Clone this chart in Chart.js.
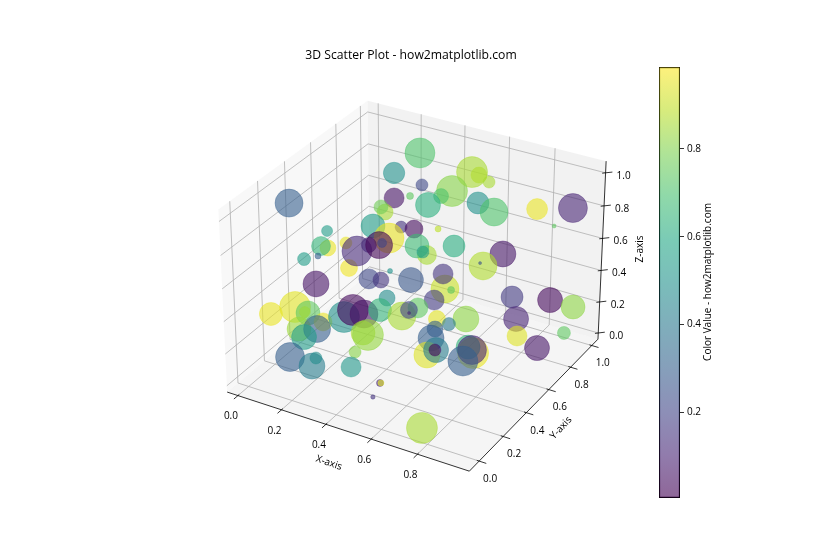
<!DOCTYPE html>
<html>
<head>
<meta charset="utf-8">
<title>3D Scatter Plot - how2matplotlib.com</title>
<script src="https://cdn.jsdelivr.net/npm/chart.js@4/dist/chart.umd.min.js"></script>
<style>
body { margin: 0; background: #fff; }
#main { position: absolute; left: 0; top: 0; }
#bar { position: absolute; top: 57px; left: 650px; }
</style>
</head>
<body>
<canvas id="main" width="840" height="560"></canvas>
<canvas id="bar" width="110" height="451"></canvas>
<script>
const xTicks = [0, 0.2, 0.4, 0.6, 0.8]
const yTicks = [0, 0.2, 0.4, 0.6, 0.8, 1]
const zTicks = [0, 0.2, 0.4, 0.6, 0.8, 1]
const colorTicks = [0.2, 0.4, 0.6, 0.8]
const colorRange = [0.004, 0.987]
const xLim = [-0.05, 1.02]
const yLim = [-0.08, 1.06]
const zLim = [-0.04, 1.07]
const viridis = ["#440154", "#482475", "#414487", "#355f8d", "#2a788e", "#21918c", "#22a884", "#44bf70", "#7ad151", "#bddf26", "#fde725"]

// values, far points first
const xValues = [
  .344, .270, .206, .516, .547, .602, .474, .441, .600, .681, .838, .954, .913, .046, .261, .317, .409,
  .253, .223, .497, .231, .342, .315, .400, .501, .446, .478, .589, .234, .222, .254, .257, .292, .300,
  .167, .187, .174, .138, .165, .792, .737, .719, .363, .278, .327, .457, .159, .608, .594, .635, .571,
  .826, .911, .962, .388, .059, .115, .143, .135, .187, .254, .278, .328, .384, .482, .526, .497, .503,
  .841, .871, .949, .926, .621, .732, .679, .118, .177, .140, .363, .385, .372, .638, .634, .652, .676,
  .671, .821, .794, .816, .798, .122, .228, .229, .382, .522, .526, .524, .760
]
const yValues = [
  .800, .920, .820, .900, .900, .880, .810, .780, .790, .770, .830, .910, .830, .270, .720, .750, .730,
  .660, .680, .650, .600, .630, .580, .630, .550, .570, .560, .610, .400, .400, .430, .520, .540, .550,
  .350, .320, .290, .220, .280, .630, .570, .580, .500, .480, .490, .500, .270, .500, .510, .500, .480,
  .650, .820, .930, .430, .090, .180, .230, .220, .270, .320, .350, .350, .380, .380, .430, .410, .400,
  .660, .610, .880, .680, .410, .440, .400, .200, .240, .200, .280, .280, .200, .330, .370, .270, .300,
  .300, .330, .340, .330, .290, .120, .110, .140, .150, .130, .130, .070, .030
]
const zValues = [
  .835, .935, .847, .917, .910, .899, .839, .814, .825, .812, .852, .853, .778, .932, .772, .787, .778,
  .719, .727, .713, .661, .678, .631, .688, .618, .639, .621, .669, .529, .678, .622, .604, .604, .614,
  .761, .684, .710, .661, .652, .687, .631, .635, .497, .427, .433, .479, .485, .484, .564, .489, .414,
  .424, .327, .231, .385, .378, .384, .325, .334, .260, .285, .319, .314, .342, .345, .380, .369, .359,
  .287, .227, .094, .126, .364, .390, .364, .234, .232, .193, .258, .255, .198, .308, .335, .251, .271,
  .269, .294, .312, .310, .263, .115, .111, .141, .144, .120, .122, .077, .021
]
const sizes = [
  6, 15, 10.7, 15.5, 8, 6, 15.5, 7.5, 11, 14, 10.5, 14.5, 2, 14, 10, 3.5, 12.5,
  8, 7, 3, 12, 6, 15, 9, 9.5, 12, 6, 11, 8.5, 6, 15, 7.5, 13.5, 4.5,
  5.5, 8, 9.5, 6.5, 3, 13, 14, 1.5, 2.5, 10, 8, 12.5, 13, 14, 10, 3.5, 10,
  11, 12.5, 12, 8, 11.5, 15.5, 12, 5.5, 9, 15.5, 15.5, 14, 11.5, 14, 10, 8.5, 1.5,
  12.5, 10, 6.5, 12.5, 8.5, 13, 6.5, 12, 13.5, 12.5, 12, 15.5, 6, 13, 8, 13, 12.5,
  6, 15.5, 12, 14.5, 15, 14.5, 13, 6, 10, 3.5, 3, 2.2, 15.5
]
const colorValues = [
  .22, .72, .5, .87, .88, .87, .82, .72, .5, .72, .97, .1, .75, .3, .05, .75, .63,
  .87, .78, .9, .55, .15, .97, .03, .87, .68, .55, .62, .98, .97, .12, .12, .01, .2,
  .55, .97, .65, .55, .3, .06, .88, .25, .5, .22, .15, .27, .05, .92, .15, .75, .17,
  .17, .02, .83, .48, .97, .96, .75, .85, .97, .5, .02, .05, .65, .87, .75, .2, .1,
  .1, .95, .75, .06, .96, .83, .4, .85, .3, .55, .87, .84, .82, .3, .3, .95, .42,
  .02, .97, .65, .1, .3, .3, .42, .48, .53, .1, .95, .15, .87
]

function hexRgb(h) { return [1, 3, 5].map(i => parseInt(h.slice(i, i + 2), 16)) }

function colorOf(val, alpha) {
  const t = Math.min(Math.max(val, 0), 1) * (viridis.length - 1)
  const i = Math.min(Math.floor(t), viridis.length - 2), f = t - i
  const p = hexRgb(viridis[i]), q = hexRgb(viridis[i + 1])
  return `rgba(${p.map((c, j) => Math.round(c + (q[j] - c) * f)).join(",")},${alpha})`
}

// same camera as matplotlib's default 3d axes: elev 30, azim -60, box 4:4:3
const deg = Math.PI / 180, el = 30 * deg, az = -60 * deg, dist = 10
const boxSize = [1.1906, 1.1906, 0.8929]
const w = [Math.cos(el) * Math.cos(az), Math.cos(el) * Math.sin(az), Math.sin(el)]
const u = [-Math.sin(az), Math.cos(az), 0]
const v = [-w[2] * u[1], w[2] * u[0], w[0] * u[1] - w[1] * u[0]]
const dot = (a, b) => a[0] * b[0] + a[1] * b[1] + a[2] * b[2]
const viewScale = 2330, viewX = 416, viewY = 277

function project(x, y, z) {
  const p = [
    ((x - xLim[0]) / (xLim[1] - xLim[0]) - 0.5) * boxSize[0],
    ((y - yLim[0]) / (yLim[1] - yLim[0]) - 0.5) * boxSize[1],
    ((z - zLim[0]) / (zLim[1] - zLim[0]) - 0.5) * boxSize[2]
  ]
  const d = dist - dot(w, p)
  return { x: dot(u, p) / d, y: dot(v, p) / d }
}

const [x0, x1] = xLim, [y0, y1] = yLim, [z0, z1] = zLim

function lineSet(pts, color, width, order, extra) {
  return Object.assign({
    type: "line", data: pts.map(p => project(p[0], p[1], p[2])),
    borderColor: color, borderWidth: width, pointRadius: 0, order, tension: 0
  }, extra || {})
}

const bubblePoints = xValues.map((x, i) => Object.assign(project(x, yValues[i], zValues[i]), { r: sizes[i] }))

const datasets = [
  {
    type: "bubble", data: bubblePoints, order: 0, borderWidth: 0.6,
    backgroundColor: c => colorOf(colorValues[c.dataIndex], 0.6),
    borderColor: c => colorOf(colorValues[c.dataIndex], 0.6)
  },
  lineSet([[x0, y0, z0], [x0, y1, z0], [x0, y1, z1], [x0, y0, z1], [x0, y0, z0]], "transparent", 0, 9, { fill: "shape", backgroundColor: "rgba(242,242,242,0.5)" }),
  lineSet([[x0, y1, z0], [x1, y1, z0], [x1, y1, z1], [x0, y1, z1], [x0, y1, z0]], "transparent", 0, 9, { fill: "shape", backgroundColor: "rgba(230,230,230,0.5)" }),
  lineSet([[x0, y0, z0], [x1, y0, z0], [x1, y1, z0], [x0, y1, z0], [x0, y0, z0]], "transparent", 0, 9, { fill: "shape", backgroundColor: "rgba(236,236,236,0.5)" }),
  lineSet([[x0, y0, z0], [x1, y0, z0], [x1, y1, z0], [x1, y1, z1]], "#000", 0.8, 1)
]

xTicks.forEach(t => {
  datasets.push(lineSet([[t, y0, z0], [t, y1, z0], [t, y1, z1]], "#b0b0b0", 0.8, 5))
  datasets.push(lineSet([[t, y0 + 0.01, z0], [t, y0 - 0.03, z0]], "#000", 0.8, 1))
})
yTicks.forEach(t => {
  datasets.push(lineSet([[x1, t, z0], [x0, t, z0], [x0, t, z1]], "#b0b0b0", 0.8, 5))
  datasets.push(lineSet([[x1 - 0.01, t, z0], [x1 + 0.03, t, z0]], "#000", 0.8, 1))
})
zTicks.forEach(t => {
  datasets.push(lineSet([[x0, y0, t], [x0, y1, t], [x1, y1, t]], "#b0b0b0", 0.8, 5))
  datasets.push(lineSet([[x1 - 0.01, y1 - 0.01, t], [x1 + 0.02, y1 + 0.02, t]], "#000", 0.8, 1))
})

const textFont = "'Open Sans', sans-serif"

const labelsPlugin = {
  id: "labels3d",
  afterDraw(chart) {
    const c = chart.ctx, sx = chart.scales.x, sy = chart.scales.y
    const put = (str, x, y, rot, size) => {
      c.save()
      c.translate(x, y)
      c.rotate((rot || 0) * deg)
      c.font = `${size || 10}px ${textFont}`
      c.fillStyle = "#000"
      c.textAlign = "center"
      c.textBaseline = "middle"
      c.fillText(str, 0, 0)
      c.restore()
    }
    const at = (x, y, z) => {
      const p = project(x, y, z)
      return [sx.getPixelForValue(p.x), sy.getPixelForValue(p.y)]
    }
    xTicks.forEach(t => { const p = at(t, y0, z0); put(t.toFixed(1), p[0] - 7, p[1] + 21) })
    yTicks.forEach(t => { const p = at(x1, t, z0); put(t.toFixed(1), p[0] + 11, p[1] + 18) })
    zTicks.forEach(t => { const p = at(x1, y1, t); put(t.toFixed(1), p[0] + 18, p[1] + 3) })
    put("3D Scatter Plot - how2matplotlib.com", 411, 56, 0, 12.2)
    put("X-axis", 329, 463, 19)
    put("Y-axis", 561, 428, -47)
    put("Z-axis", 640, 249, -90)
    put("Color Value - how2matplotlib.com", 708, 282, -90)
  }
}

new Chart(document.getElementById("main"), {
  type: "bubble",
  data: { datasets },
  plugins: [labelsPlugin],
  options: {
    responsive: false, animation: false, events: [],
    layout: { padding: 0, autoPadding: false },
    plugins: { legend: { display: false }, tooltip: { enabled: false } },
    scales: {
      x: { type: "linear", display: false, min: (0 - viewX) / viewScale, max: (840 - viewX) / viewScale },
      y: { type: "linear", display: false, min: (viewY - 560) / viewScale, max: viewY / viewScale }
    }
  }
})

new Chart(document.getElementById("bar"), {
  type: "bar",
  data: {
    labels: [""],
    datasets: [{
      data: [colorRange], borderColor: "#000", borderWidth: 0.8, borderSkipped: false,
      barPercentage: 1, categoryPercentage: 1,
      backgroundColor(ctx) {
        const a = ctx.chart.chartArea
        if (!a) return "transparent"
        const g = ctx.chart.ctx.createLinearGradient(0, a.bottom, 0, a.top)
        viridis.forEach((h, i) => g.addColorStop(i / (viridis.length - 1), colorOf(i / (viridis.length - 1), 0.6)))
        return g
      }
    }]
  },
  options: {
    responsive: false, animation: false, events: [],
    layout: { padding: { left: 9, top: 10, bottom: 10, right: 0 } },
    plugins: { legend: { display: false }, tooltip: { enabled: false } },
    scales: {
      x: { display: false },
      y: {
        position: "right", min: colorRange[0], max: colorRange[1],
        afterBuildTicks(s) { s.ticks = colorTicks.map(value => ({ value })) },
        afterFit(s) { s.width = 80 },
        border: { display: false },
        grid: { drawOnChartArea: false, drawTicks: true, tickLength: 4, color: "#000", lineWidth: 0.8 },
        ticks: { color: "#000", padding: 3, font: { family: textFont, size: 10 }, callback: val => val.toFixed(1) }
      }
    }
  }
})
</script>
</body>
</html>
